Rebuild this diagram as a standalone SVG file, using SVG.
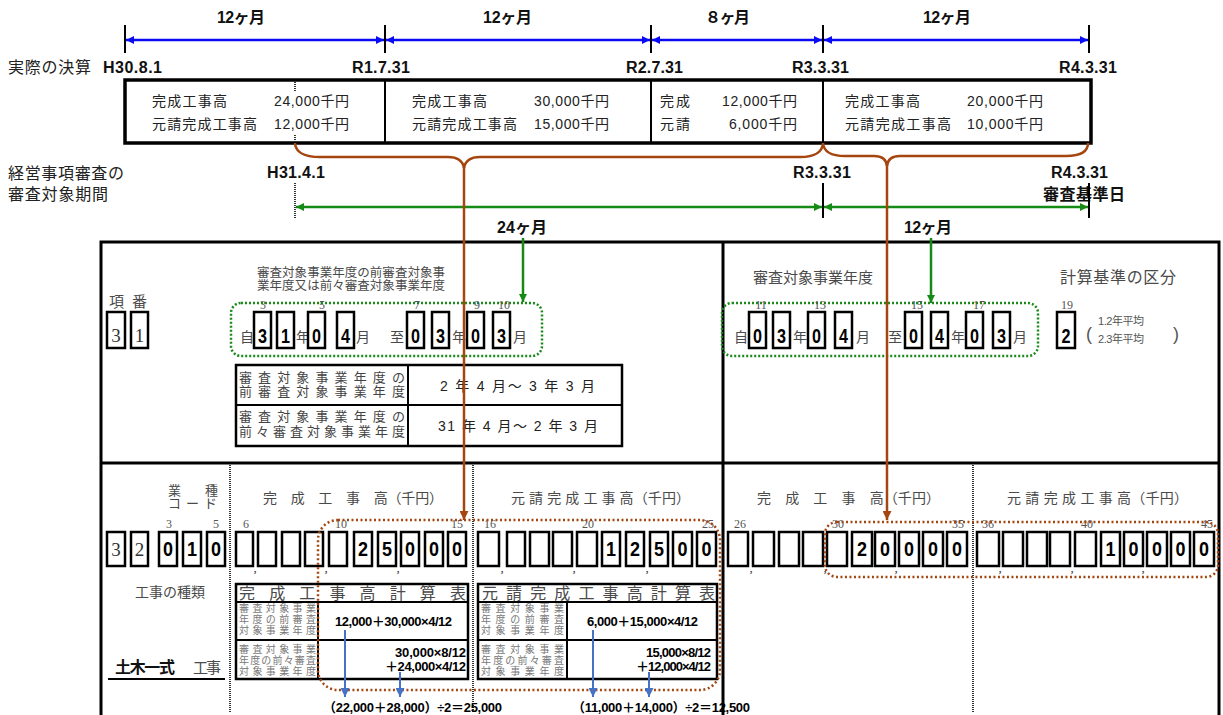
<svg xmlns="http://www.w3.org/2000/svg" width="1223" height="715" viewBox="0 0 1223 715">
<defs>
<style>
text{font-family:"Liberation Sans","Noto Sans CJK JP",sans-serif}
.bd{font-weight:bold;font-size:16px;fill:#111}
.lb{font-size:16px;fill:#222}
.c{font-size:14px;fill:#222}
.g{fill:#4a4a4a}
.sm{font-family:"Liberation Serif","Noto Sans CJK JP",serif;font-size:12px;fill:#555;text-anchor:middle}
.dg{font-weight:bold;font-size:21px;fill:#000;text-anchor:middle}
.sd{font-family:"Liberation Serif",serif;font-size:19px;fill:#333;text-anchor:middle}
.bx{fill:#fff;stroke:#000;stroke-width:2.5}
.tk{stroke:#000;stroke-width:2}
.dot{stroke:#333;stroke-width:2;stroke-dasharray:1 1;fill:none}
.frm{fill:none;stroke:#000;stroke-width:3}
.tb{fill:#fff;stroke:#000;stroke-width:2.5}
.tl{stroke:#000;stroke-width:2}
.gd{fill:none;stroke:#1a8a1a;stroke-width:2.5;stroke-dasharray:2 2}
.rd{fill:none;stroke:#a5450f;stroke-width:2.5;stroke-dasharray:2 2.5}
.tiny{font-size:10px;fill:#777}
.fx{font-weight:bold;font-size:13px;fill:#000}
.cm{font-family:"Liberation Serif",serif;font-size:13px;fill:#333;text-anchor:middle}
</style>
<marker id="ab" viewBox="0 0 10 10" refX="10" refY="5" markerWidth="9" markerHeight="8" markerUnits="userSpaceOnUse" orient="auto-start-reverse"><path d="M0,0L10,5L0,10z" fill="#0a0af5"/></marker>
<marker id="ag" viewBox="0 0 10 10" refX="10" refY="5" markerWidth="9" markerHeight="8" markerUnits="userSpaceOnUse" orient="auto-start-reverse"><path d="M0,0L10,5L0,10z" fill="#158a15"/></marker>
<marker id="ar" viewBox="0 0 10 10" refX="10" refY="5" markerWidth="9" markerHeight="9" markerUnits="userSpaceOnUse" orient="auto"><path d="M0,0L10,5L0,10z" fill="#a5450f"/></marker>
<marker id="al" viewBox="0 0 10 10" refX="10" refY="5" markerWidth="10" markerHeight="9" markerUnits="userSpaceOnUse" orient="auto"><path d="M0,0L10,5L0,10z" fill="#4472c4"/></marker>
</defs>
<rect width="1223" height="715" fill="#fff"/>

<g id="timeline-actual">
<text class="bd" x="217" y="23" textLength="48">12ヶ月</text>
<text class="bd" x="483" y="23" textLength="49">12ヶ月</text>
<text class="bd" x="705" y="23" textLength="45">８ヶ月</text>
<text class="bd" x="923" y="23" textLength="48">12ヶ月</text>
<line class="tk" x1="125" y1="25" x2="125" y2="53"/>
<line class="tk" x1="385" y1="25" x2="385" y2="53"/>
<line class="tk" x1="651" y1="25" x2="651" y2="53"/>
<line class="tk" x1="823" y1="25" x2="823" y2="53"/>
<line class="tk" x1="1089" y1="25" x2="1089" y2="53"/>
<text class="lb" x="8" y="73" textLength="83">実際の決算</text>
<text class="bd" x="103" y="73" textLength="59">H30.8.1</text>
<text class="bd" x="352" y="73" textLength="58">R1.7.31</text>
<text class="bd" x="626" y="73" textLength="57">R2.7.31</text>
<text class="bd" x="792" y="73" textLength="57">R3.3.31</text>
<text class="bd" x="1059" y="73" textLength="58">R4.3.31</text>
</g>

<g id="fy-box">
<rect x="125" y="80" width="966" height="63" fill="#fff" stroke="#000" stroke-width="3.5"/>
<line class="tl" x1="385" y1="80" x2="385" y2="143"/>
<line class="tl" x1="651" y1="80" x2="651" y2="143"/>
<line class="tl" x1="823" y1="80" x2="823" y2="143"/>
<g id="fy1">
<text class="c" x="152" y="106" textLength="75">完成工事高</text>
<text class="c" x="274" y="106" textLength="75">24,000千円</text>
<text class="c" x="152" y="129" textLength="105">元請完成工事高</text>
<text class="c" x="274" y="129" textLength="75">12,000千円</text>
</g>
<g id="fy2">
<text class="c" x="412" y="106" textLength="75">完成工事高</text>
<text class="c" x="534" y="106" textLength="75">30,000千円</text>
<text class="c" x="412" y="129" textLength="105">元請完成工事高</text>
<text class="c" x="534" y="129" textLength="75">15,000千円</text>
</g>
<g id="fy3">
<text class="c" x="660" y="106" textLength="30">完成</text>
<text class="c" x="722" y="106" textLength="75">12,000千円</text>
<text class="c" x="660" y="129" textLength="30">元請</text>
<text class="c" x="729" y="129" textLength="68">6,000千円</text>
</g>
<g id="fy4">
<text class="c" x="845" y="106" textLength="75">完成工事高</text>
<text class="c" x="967" y="106" textLength="76">20,000千円</text>
<text class="c" x="845" y="129" textLength="106">元請完成工事高</text>
<text class="c" x="967" y="129" textLength="76">10,000千円</text>
</g>
<line class="dot" x1="295" y1="82" x2="295" y2="91"/>
<line class="dot" x1="295" y1="135" x2="295" y2="145"/>
</g>

<g id="timeline-review">
<text class="lb" x="8" y="179" textLength="116">経営事項審査の</text>
<text class="lb" x="8" y="200" textLength="100">審査対象期間</text>
<text class="bd" x="267" y="178" textLength="58">H31.4.1</text>
<text class="bd" x="793" y="178" textLength="58">R3.3.31</text>
<text class="bd" x="1051" y="178" textLength="57">R4.3.31</text>
<text class="bd" x="1043" y="200" textLength="82">審査基準日</text>
<line class="dot" x1="295" y1="183" x2="295" y2="218"/>
<line class="tk" x1="823" y1="183" x2="823" y2="218"/>
<line class="tk" x1="1089" y1="183" x2="1089" y2="218"/>
<text class="bd" x="497" y="233" textLength="50">24ヶ月</text>
<text class="bd" x="904" y="233" textLength="48">12ヶ月</text>
</g>

<g id="form">
<rect class="frm" x="101" y="242" width="1118" height="480"/>
<line class="frm" x1="723" y1="242" x2="723" y2="715"/>
<line class="frm" x1="101" y1="463" x2="1219" y2="463"/>
<line class="dot" x1="230" y1="465" x2="230" y2="713"/>
<line class="dot" x1="473" y1="465" x2="473" y2="713"/>
<line class="dot" x1="973" y1="465" x2="973" y2="713"/>
</g>

<g id="prev-period">
<text class="g" font-size="12.5" x="257" y="277" textLength="188">審査対象事業年度の前審査対象事</text>
<text class="g" font-size="12.5" x="257" y="290" textLength="188">業年度又は前々審査対象事業年度</text>
<rect class="gd" x="231" y="303" width="311" height="53" rx="10"/>
<text class="sm" x="263" y="309">3</text>
<text class="sm" x="322" y="309">5</text>
<text class="sm" x="417" y="309">7</text>
<text class="sm" x="477" y="309">9</text>
<text class="sm" x="504" y="309">10</text>
<g font-size="14">
<text class="g" x="240" y="342">自</text>
<text class="g" x="296" y="342">年</text>
<text class="g" x="356" y="342">月</text>
<text class="g" x="390" y="342">至</text>
<text class="g" x="452" y="342">年</text>
<text class="g" x="513" y="342">月</text>
</g>
<rect class="bx" x="254" y="312" width="17" height="36"/><text class="dg" x="262.5" y="343" textLength="9" lengthAdjust="spacingAndGlyphs">3</text>
<rect class="bx" x="277" y="312" width="17" height="36"/><text class="dg" x="285.5" y="343" textLength="9" lengthAdjust="spacingAndGlyphs">1</text>
<rect class="bx" x="308" y="312" width="17" height="36"/><text class="dg" x="316.5" y="343" textLength="9" lengthAdjust="spacingAndGlyphs">0</text>
<rect class="bx" x="337" y="312" width="17" height="36"/><text class="dg" x="345.5" y="343" textLength="9" lengthAdjust="spacingAndGlyphs">4</text>
<rect class="bx" x="407" y="312" width="17" height="36"/><text class="dg" x="415.5" y="343" textLength="9" lengthAdjust="spacingAndGlyphs">0</text>
<rect class="bx" x="432" y="312" width="17" height="36"/><text class="dg" x="440.5" y="343" textLength="9" lengthAdjust="spacingAndGlyphs">3</text>
<rect class="bx" x="467" y="312" width="17" height="36"/><text class="dg" x="475.5" y="343" textLength="9" lengthAdjust="spacingAndGlyphs">0</text>
<rect class="bx" x="493" y="312" width="17" height="36"/><text class="dg" x="501.5" y="343" textLength="9" lengthAdjust="spacingAndGlyphs">3</text>
</g>

<g id="item-no">
<text class="g" font-size="15" x="109" y="307" textLength="38">項 番</text>
<rect class="bx" x="107" y="312" width="18" height="36"/><text class="sd" x="116" y="342">3</text>
<rect class="bx" x="131" y="312" width="17" height="36"/><text class="sd" x="139.5" y="342">1</text>
</g>

<g id="period-table">
<rect class="tb" x="236" y="365" width="386" height="81"/>
<line class="tl" x1="236" y1="405" x2="622" y2="405"/>
<line class="tl" x1="408" y1="365" x2="408" y2="446"/>
<g font-size="13" fill="#444">
<text x="239" y="382" textLength="166">審査対象事業年度の</text>
<text x="239" y="396" textLength="166">前審査対象事業年度</text>
<text x="239" y="421" textLength="166">審査対象事業年度の</text>
<text x="239" y="436" textLength="166">前々審査対象事業年度</text>
</g>
<text class="c" x="440" y="391" textLength="155">2 年 4 月～ 3 年 3 月</text>
<text class="c" x="438" y="431" textLength="160">31 年 4 月～ 2 年 3 月</text>
</g>

<g id="review-year">
<text class="g" font-size="15" x="753" y="283" textLength="120">審査対象事業年度</text>
<rect class="gd" x="722" y="303" width="316" height="53" rx="10"/>
<text class="sm" x="761" y="309">11</text>
<text class="sm" x="820" y="309">13</text>
<text class="sm" x="917" y="309">15</text>
<text class="sm" x="979" y="309">17</text>
<g font-size="14">
<text class="g" x="734" y="342">自</text>
<text class="g" x="793" y="342">年</text>
<text class="g" x="856" y="342">月</text>
<text class="g" x="888" y="342">至</text>
<text class="g" x="951" y="342">年</text>
<text class="g" x="1013" y="342">月</text>
</g>
<rect class="bx" x="749" y="312" width="17" height="36"/><text class="dg" x="757.5" y="343" textLength="9" lengthAdjust="spacingAndGlyphs">0</text>
<rect class="bx" x="773" y="312" width="17" height="36"/><text class="dg" x="781.5" y="343" textLength="9" lengthAdjust="spacingAndGlyphs">3</text>
<rect class="bx" x="808" y="312" width="17" height="36"/><text class="dg" x="816.5" y="343" textLength="9" lengthAdjust="spacingAndGlyphs">0</text>
<rect class="bx" x="835" y="312" width="17" height="36"/><text class="dg" x="843.5" y="343" textLength="9" lengthAdjust="spacingAndGlyphs">4</text>
<rect class="bx" x="905" y="312" width="17" height="36"/><text class="dg" x="913.5" y="343" textLength="9" lengthAdjust="spacingAndGlyphs">0</text>
<rect class="bx" x="931" y="312" width="17" height="36"/><text class="dg" x="939.5" y="343" textLength="9" lengthAdjust="spacingAndGlyphs">4</text>
<rect class="bx" x="966" y="312" width="17" height="36"/><text class="dg" x="974.5" y="343" textLength="9" lengthAdjust="spacingAndGlyphs">0</text>
<rect class="bx" x="993" y="312" width="17" height="36"/><text class="dg" x="1001.5" y="343" textLength="9" lengthAdjust="spacingAndGlyphs">3</text>
</g>

<g id="calc-basis">
<text class="g" font-size="16" x="1060" y="283" textLength="116">計算基準の区分</text>
<text class="sm" x="1067" y="309">19</text>
<rect class="bx" x="1057" y="312" width="18" height="36"/><text class="dg" x="1066" y="343" textLength="9" lengthAdjust="spacingAndGlyphs">2</text>
<text x="1086" y="340" font-family="Liberation Serif,serif" font-size="18" fill="#555">(</text>
<text x="1098" y="325" font-size="11" fill="#555" textLength="46">1.2年平均</text>
<text x="1098" y="343" font-size="11" fill="#555" textLength="46">2.3年平均</text>
<text x="1173" y="340" font-family="Liberation Serif,serif" font-size="18" fill="#555">)</text>
</g>

<g id="code-field">
<text class="g" font-size="13" x="168" y="495">業</text>
<text class="g" font-size="13" x="205" y="495">種</text>
<text class="g" font-size="13" x="168" y="508" textLength="49">コード</text>
<text class="sm" x="169" y="528">3</text>
<text class="sm" x="216" y="528">5</text>
<rect class="bx" x="107" y="532" width="18" height="34"/><text class="sd" x="116" y="556">3</text>
<rect class="bx" x="131" y="532" width="17" height="34"/><text class="sd" x="139.5" y="556">2</text>
<rect class="bx" x="159" y="532" width="18" height="34"/><text class="dg" x="168" y="556" textLength="10" lengthAdjust="spacingAndGlyphs">0</text>
<rect class="bx" x="183" y="532" width="18" height="34"/><text class="dg" x="192" y="556" textLength="10" lengthAdjust="spacingAndGlyphs">1</text>
<rect class="bx" x="207" y="532" width="18" height="34"/><text class="dg" x="216" y="556" textLength="10" lengthAdjust="spacingAndGlyphs">0</text>
<text class="g" font-size="14" x="135" y="597" textLength="70">工事の種類</text>
<text class="bd" x="115" y="673" textLength="60">土木一式</text>
<text class="g" font-size="15" x="193" y="673" textLength="28">工事</text>
<line x1="108" y1="679" x2="225" y2="679" stroke="#000" stroke-width="2"/>
</g>

<g id="completed-amount">
<text class="g" font-size="14" x="263" y="503" textLength="180">完　成　工　事　高（千円）</text>
<text class="sm" x="246" y="528">6</text>
<text class="sm" x="341" y="528">10</text>
<text class="sm" x="457" y="528">15</text>
<rect class="bx" x="236" y="532" width="17" height="34"/>
<rect class="bx" x="258" y="532" width="18" height="34"/>
<rect class="bx" x="282" y="532" width="18" height="34"/>
<rect class="bx" x="305" y="532" width="18" height="34"/>
<rect class="bx" x="329" y="532" width="18" height="34"/>
<rect class="bx" x="354" y="532" width="18" height="34"/><text class="dg" x="363" y="556" textLength="10" lengthAdjust="spacingAndGlyphs">2</text>
<rect class="bx" x="378" y="532" width="18" height="34"/><text class="dg" x="387" y="556" textLength="10" lengthAdjust="spacingAndGlyphs">5</text>
<rect class="bx" x="401" y="532" width="18" height="34"/><text class="dg" x="410" y="556" textLength="10" lengthAdjust="spacingAndGlyphs">0</text>
<rect class="bx" x="425" y="532" width="18" height="34"/><text class="dg" x="434" y="556" textLength="10" lengthAdjust="spacingAndGlyphs">0</text>
<rect class="bx" x="448" y="532" width="18" height="34"/><text class="dg" x="457" y="556" textLength="10" lengthAdjust="spacingAndGlyphs">0</text>
<text class="cm" x="255" y="572">,</text>
<text class="cm" x="326" y="572">,</text>
<text class="cm" x="398" y="572">,</text>
</g>

<g id="prime-amount">
<text class="g" font-size="14" x="511" y="503" textLength="179">元 請 完 成 工 事 高（千円）</text>
<text class="sm" x="490" y="528">16</text>
<text class="sm" x="588" y="528">20</text>
<text class="sm" x="708" y="528">25</text>
<rect class="bx" x="478" y="532" width="21" height="34"/>
<rect class="bx" x="507" y="532" width="18" height="34"/>
<rect class="bx" x="530" y="532" width="19" height="34"/>
<rect class="bx" x="553" y="532" width="19" height="34"/>
<rect class="bx" x="577" y="532" width="20" height="34"/>
<rect class="bx" x="602" y="532" width="18" height="34"/><text class="dg" x="611" y="556" textLength="10" lengthAdjust="spacingAndGlyphs">1</text>
<rect class="bx" x="626" y="532" width="18" height="34"/><text class="dg" x="635" y="556" textLength="10" lengthAdjust="spacingAndGlyphs">2</text>
<rect class="bx" x="650" y="532" width="18" height="34"/><text class="dg" x="659" y="556" textLength="10" lengthAdjust="spacingAndGlyphs">5</text>
<rect class="bx" x="673" y="532" width="19" height="34"/><text class="dg" x="682.5" y="556" textLength="10" lengthAdjust="spacingAndGlyphs">0</text>
<rect class="bx" x="697" y="532" width="19" height="34"/><text class="dg" x="706.5" y="556" textLength="10" lengthAdjust="spacingAndGlyphs">0</text>
<text class="cm" x="502" y="572">,</text>
<text class="cm" x="574" y="572">,</text>
<text class="cm" x="647" y="572">,</text>
</g>

<g id="completed-amount-2">
<text class="g" font-size="14" x="757" y="503" textLength="183">完　成　工　事　高（千円）</text>
<text class="sm" x="740" y="528">26</text>
<text class="sm" x="838" y="528">30</text>
<text class="sm" x="958" y="528">35</text>
<rect class="bx" x="728" y="532" width="20" height="34"/>
<rect class="bx" x="753" y="532" width="21" height="34"/>
<rect class="bx" x="779" y="532" width="20" height="34"/>
<rect class="bx" x="803" y="532" width="20" height="34"/>
<rect class="bx" x="827" y="532" width="20" height="34"/>
<rect class="bx" x="852" y="532" width="20" height="34"/><text class="dg" x="862" y="556" textLength="10" lengthAdjust="spacingAndGlyphs">2</text>
<rect class="bx" x="875" y="532" width="20" height="34"/><text class="dg" x="885" y="556" textLength="10" lengthAdjust="spacingAndGlyphs">0</text>
<rect class="bx" x="899" y="532" width="20" height="34"/><text class="dg" x="909" y="556" textLength="10" lengthAdjust="spacingAndGlyphs">0</text>
<rect class="bx" x="923" y="532" width="20" height="34"/><text class="dg" x="933" y="556" textLength="10" lengthAdjust="spacingAndGlyphs">0</text>
<rect class="bx" x="947" y="532" width="20" height="34"/><text class="dg" x="957" y="556" textLength="10" lengthAdjust="spacingAndGlyphs">0</text>
<text class="cm" x="751" y="572">,</text>
<text class="cm" x="825" y="572">,</text>
<text class="cm" x="896" y="572">,</text>
</g>

<g id="prime-amount-2">
<text class="g" font-size="14" x="1007" y="503" textLength="181">元 請 完 成 工 事 高（千円）</text>
<text class="sm" x="988" y="528">36</text>
<text class="sm" x="1087" y="528">40</text>
<text class="sm" x="1207" y="528">45</text>
<rect class="bx" x="977" y="532" width="22" height="34"/>
<rect class="bx" x="1003" y="532" width="20" height="34"/>
<rect class="bx" x="1027" y="532" width="20" height="34"/>
<rect class="bx" x="1050" y="532" width="20" height="34"/>
<rect class="bx" x="1075" y="532" width="21" height="34"/>
<rect class="bx" x="1101" y="532" width="19" height="34"/><text class="dg" x="1110.5" y="556" textLength="10" lengthAdjust="spacingAndGlyphs">1</text>
<rect class="bx" x="1124" y="532" width="19" height="34"/><text class="dg" x="1133.5" y="556" textLength="10" lengthAdjust="spacingAndGlyphs">0</text>
<rect class="bx" x="1147" y="532" width="20" height="34"/><text class="dg" x="1157" y="556" textLength="10" lengthAdjust="spacingAndGlyphs">0</text>
<rect class="bx" x="1171" y="532" width="19" height="34"/><text class="dg" x="1180.5" y="556" textLength="10" lengthAdjust="spacingAndGlyphs">0</text>
<rect class="bx" x="1194" y="532" width="20" height="34"/><text class="dg" x="1204" y="556" textLength="10" lengthAdjust="spacingAndGlyphs">0</text>
<text class="cm" x="1000" y="572">,</text>
<text class="cm" x="1072" y="572">,</text>
<text class="cm" x="1143" y="572">,</text>
</g>

<g id="calc-table-1">
<rect class="tb" x="236" y="584" width="232" height="95"/>
<line class="tl" x1="236" y1="602" x2="468" y2="602"/>
<line class="tl" x1="236" y1="640" x2="468" y2="640"/>
<line class="tl" x1="318" y1="602" x2="318" y2="679"/>
<text class="g" font-size="16" x="239" y="599" textLength="227">完成工事高計算表</text>
<text class="tiny" x="239" y="612" textLength="77">審査対象事業</text>
<text class="tiny" x="239" y="623" textLength="77">年度の前審査</text>
<text class="tiny" x="239" y="634" textLength="77">対象事業年度</text>
<text class="tiny" x="239" y="653" textLength="77">審査対象事業</text>
<text class="tiny" x="239" y="664" textLength="77">年度の前々審査</text>
<text class="tiny" x="239" y="675" textLength="77">対象事業年度</text>
<text class="fx" x="335" y="626" textLength="117">12,000＋30,000×4/12</text>
<text class="fx" x="395" y="657" textLength="71">30,000×8/12</text>
<text class="fx" x="385" y="671" textLength="81">＋24,000×4/12</text>
</g>

<g id="calc-table-2">
<rect class="tb" x="478" y="584" width="239" height="95"/>
<line class="tl" x1="478" y1="602" x2="717" y2="602"/>
<line class="tl" x1="478" y1="640" x2="717" y2="640"/>
<line class="tl" x1="567" y1="602" x2="567" y2="679"/>
<text class="g" font-size="16" x="482" y="599" textLength="233">元請完成工事高計算表</text>
<text class="tiny" x="481" y="612" textLength="83">審査対象事業</text>
<text class="tiny" x="481" y="623" textLength="83">年度の前審査</text>
<text class="tiny" x="481" y="634" textLength="83">対象事業年度</text>
<text class="tiny" x="481" y="653" textLength="83">審査対象事業</text>
<text class="tiny" x="481" y="664" textLength="83">年度の前々審査</text>
<text class="tiny" x="481" y="675" textLength="83">対象事業年度</text>
<text class="fx" x="587" y="626" textLength="111">6,000＋15,000×4/12</text>
<text class="fx" x="646" y="657" textLength="65">15,000×8/12</text>
<text class="fx" x="636" y="671" textLength="75">＋12,000×4/12</text>
</g>

<g id="results">
<text class="fx" font-size="14" x="323" y="712" textLength="179">（22,000＋28,000）÷2＝25,000</text>
<text class="fx" font-size="14" x="572" y="712" textLength="178">（11,000＋14,000）÷2＝12,500</text>
</g>

<g id="highlights">
<rect class="rd" x="318" y="520" width="402" height="170" rx="20"/>
<rect class="rd" x="825" y="522" width="393" height="55" rx="12"/>
</g>

<g id="connectors" fill="none">
<g stroke="#0a0af5" stroke-width="2.5">
<line x1="126" y1="40" x2="384" y2="40" marker-start="url(#ab)" marker-end="url(#ab)"/>
<line x1="386" y1="40" x2="650" y2="40" marker-start="url(#ab)" marker-end="url(#ab)"/>
<line x1="652" y1="40" x2="822" y2="40" marker-start="url(#ab)" marker-end="url(#ab)"/>
<line x1="824" y1="40" x2="1088" y2="40" marker-start="url(#ab)" marker-end="url(#ab)"/>
</g>
<g stroke="#158a15" stroke-width="2.5">
<line x1="296" y1="207" x2="822" y2="207" marker-start="url(#ag)" marker-end="url(#ag)"/>
<line x1="824" y1="207" x2="1088" y2="207" marker-start="url(#ag)" marker-end="url(#ag)"/>
<line x1="523" y1="238" x2="523" y2="302" marker-end="url(#ag)"/>
<line x1="931" y1="238" x2="931" y2="303" marker-end="url(#ag)"/>
</g>
<g stroke="#a5450f" stroke-width="2.5">
<path d="M295,143 Q296,157 320,157 L448,157 Q462,157 464,168 Q466,157 480,157 L800,157 Q822,157 823,143"/>
<path d="M823,143 Q824,156 845,156 L874,156 Q886,156 887,166 Q888,156 900,156 L1066,156 Q1088,156 1088,143"/>
<line x1="464" y1="167" x2="464" y2="520" marker-end="url(#ar)"/>
<line x1="887" y1="165" x2="887" y2="520" marker-end="url(#ar)"/>
</g>
<g stroke="#4472c4" stroke-width="2">
<line x1="345" y1="630" x2="345" y2="697" marker-end="url(#al)"/>
<line x1="400" y1="672" x2="400" y2="697" marker-end="url(#al)"/>
<line x1="593" y1="630" x2="593" y2="697" marker-end="url(#al)"/>
<line x1="649" y1="672" x2="649" y2="697" marker-end="url(#al)"/>
</g>
</g>
</svg>
